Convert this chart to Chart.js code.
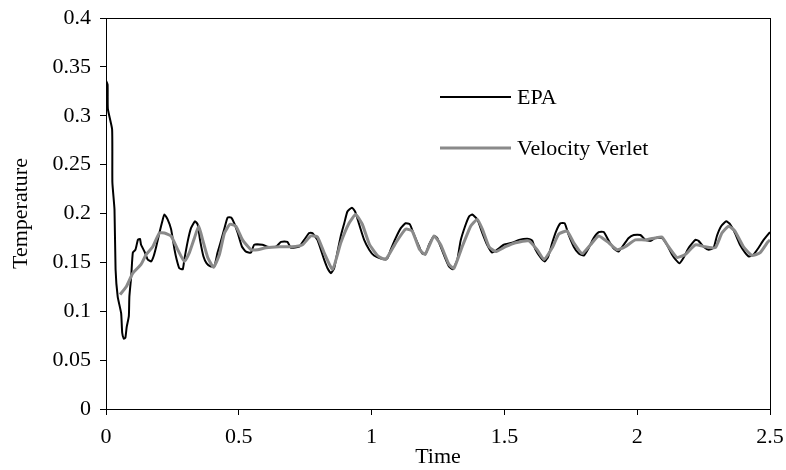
<!DOCTYPE html>
<html>
<head>
<meta charset="utf-8">
<script src="https://cdn.jsdelivr.net/npm/chart.js@4/dist/chart.umd.min.js"></script>
<style>
  html, body { margin: 0; padding: 0; background: #fff; }
  #wrap { width: 786px; height: 470px; }
</style>
</head>
<body>
<div id="wrap"><canvas id="c" width="786" height="470"></canvas></div>
<script>
// EPA thermostat run: time and temperature
const epaTime = [0.000,0.006,0.007,0.023,0.024,0.032,0.036,0.044,0.057,0.061,0.067,0.073,0.078,0.086,0.088,0.095,0.101,0.111,0.120,0.128,
  0.132,0.145,0.157,0.170,0.179,0.189,0.201,0.211,0.220,0.232,0.245,0.258,0.266,0.276,0.289,0.295,0.308,0.320,0.335,0.345,
  0.354,0.367,0.379,0.393,0.408,0.420,0.433,0.446,0.458,0.471,0.483,0.496,0.512,0.527,0.546,0.558,0.589,0.608,0.640,0.659,
  0.683,0.696,0.727,0.746,0.765,0.777,0.796,0.809,0.821,0.834,0.847,0.859,0.871,0.884,0.897,0.909,0.926,0.938,0.953,0.972,
  0.991,1.009,1.035,1.059,1.072,1.091,1.110,1.128,1.144,1.160,1.179,1.191,1.204,1.216,1.235,1.247,1.260,1.279,1.291,1.306,
  1.323,1.335,1.352,1.367,1.379,1.398,1.417,1.435,1.454,1.473,1.498,1.529,1.555,1.592,1.605,1.617,1.636,1.652,1.665,1.680,
  1.695,1.711,1.727,1.742,1.761,1.780,1.799,1.818,1.836,1.855,1.874,1.893,1.912,1.930,1.949,1.968,1.987,2.012,2.031,2.050,
  2.068,2.093,2.112,2.131,2.144,2.159,2.175,2.194,2.219,2.231,2.250,2.269,2.288,2.300,2.316,2.335,2.350,2.368,2.387,2.406,
  2.421,2.438,2.457,2.476,2.500];
const epaTemp = [0.336,0.332,0.307,0.286,0.232,0.204,0.143,0.115,0.098,0.078,0.072,0.073,0.084,0.095,0.115,0.136,0.160,0.163,0.173,0.174,
  0.168,0.161,0.153,0.151,0.156,0.166,0.180,0.191,0.199,0.194,0.184,0.163,0.153,0.144,0.143,0.153,0.172,0.185,0.192,0.189,
  0.173,0.156,0.149,0.146,0.146,0.160,0.172,0.185,0.196,0.196,0.190,0.180,0.166,0.161,0.160,0.168,0.168,0.166,0.166,0.171,
  0.171,0.165,0.166,0.173,0.180,0.180,0.173,0.163,0.153,0.144,0.139,0.144,0.160,0.177,0.190,0.202,0.206,0.202,0.189,0.173,
  0.163,0.157,0.154,0.154,0.163,0.175,0.185,0.190,0.189,0.178,0.166,0.159,0.159,0.168,0.177,0.175,0.166,0.153,0.146,0.143,
  0.153,0.172,0.187,0.197,0.199,0.194,0.180,0.168,0.160,0.163,0.168,0.170,0.173,0.174,0.172,0.163,0.155,0.151,0.156,0.170,
  0.182,0.190,0.190,0.178,0.166,0.159,0.157,0.165,0.175,0.181,0.181,0.172,0.164,0.161,0.168,0.175,0.178,0.178,0.173,0.172,
  0.175,0.175,0.168,0.158,0.153,0.149,0.155,0.165,0.173,0.172,0.166,0.163,0.165,0.177,0.187,0.192,0.189,0.180,0.168,0.160,
  0.156,0.158,0.165,0.173,0.181];

// Velocity Verlet run: time and temperature
const vvTime = [0.053,0.076,0.101,0.132,0.151,0.176,0.201,0.220,0.245,0.270,0.295,0.314,0.333,0.349,0.364,0.383,0.405,0.427,0.446,0.467,
  0.489,0.514,0.546,0.571,0.602,0.652,0.700,0.740,0.771,0.796,0.821,0.853,0.884,0.915,0.940,0.965,0.991,1.022,1.053,1.091,
  1.128,1.153,1.179,1.201,1.235,1.260,1.291,1.310,1.341,1.373,1.398,1.417,1.442,1.467,1.504,1.542,1.592,1.623,1.649,1.680,
  1.705,1.736,1.761,1.792,1.824,1.855,1.893,1.924,1.955,1.993,2.031,2.068,2.093,2.118,2.150,2.181,2.219,2.256,2.294,2.319,
  2.344,2.368,2.400,2.432,2.463,2.492,2.500];
const vvTemp = [0.117,0.125,0.139,0.148,0.158,0.166,0.180,0.180,0.177,0.163,0.151,0.160,0.175,0.187,0.173,0.155,0.145,0.158,0.180,0.189,
  0.187,0.173,0.163,0.163,0.165,0.166,0.166,0.168,0.177,0.176,0.160,0.143,0.170,0.190,0.199,0.189,0.169,0.157,0.153,0.170,
  0.184,0.182,0.164,0.158,0.177,0.168,0.148,0.144,0.166,0.187,0.194,0.184,0.166,0.161,0.166,0.170,0.172,0.163,0.153,0.165,
  0.179,0.182,0.170,0.159,0.168,0.177,0.170,0.163,0.166,0.173,0.173,0.175,0.176,0.166,0.155,0.158,0.168,0.166,0.165,0.180,
  0.187,0.182,0.166,0.157,0.160,0.171,0.173];

const seriesNames = ['EPA', 'Velocity Verlet'];
const xTicks = [0, 0.5, 1, 1.5, 2, 2.5];
const yTicks = [0, 0.05, 0.1, 0.15, 0.2, 0.25, 0.3, 0.35, 0.4];

const toPoints = (xs, ys) => xs.map((x, i) => ({ x: x, y: ys[i] }));
const FONT = "'Liberation Serif', 'Times New Roman', serif";
const FSIZE = 22;

// Frame around the plot area
const framePlugin = {
  id: 'frame',
  afterDraw(chart) {
    const { ctx, chartArea: a } = chart;
    ctx.save();
    ctx.strokeStyle = '#000';
    ctx.lineWidth = 1;
    ctx.strokeRect(Math.round(a.left) + 0.5, Math.round(a.top) + 0.5,
      Math.round(a.right - a.left), Math.round(a.bottom - a.top));
    ctx.restore();
  }
};

// Legend drawn inside the plot: a line sample followed by the series name
const insideLegend = {
  id: 'insideLegend',
  afterDatasetsDraw(chart, args, opts) {
    const { ctx } = chart;
    ctx.save();
    ctx.font = opts.font;
    ctx.textBaseline = 'middle';
    ctx.fillStyle = '#000';
    opts.rows.forEach((row) => {
      const ds = chart.data.datasets[row.index];
      ctx.strokeStyle = ds.borderColor;
      ctx.lineWidth = ds.borderWidth;
      ctx.beginPath();
      ctx.moveTo(opts.x, row.y);
      ctx.lineTo(opts.x + opts.lineLen, row.y);
      ctx.stroke();
      ctx.fillText(ds.label, opts.x + opts.lineLen + opts.gap, row.y + 1);
    });
    ctx.restore();
  }
};

new Chart(document.getElementById('c'), {
  type: 'line',
  data: {
    datasets: [
      {
        label: seriesNames[0],
        data: toPoints(epaTime, epaTemp),
        borderColor: '#000000',
        borderWidth: 2,
        pointRadius: 0,
        tension: 0.15,
        fill: false,
        order: 2
      },
      {
        label: seriesNames[1],
        data: toPoints(vvTime, vvTemp),
        borderColor: '#8a8a8a',
        borderWidth: 3,
        pointRadius: 0,
        tension: 0.15,
        fill: false,
        order: 1
      }
    ]
  },
  options: {
    responsive: false,
    animation: false,
    devicePixelRatio: 1,
    layout: { padding: { top: 18, right: 16, left: 0, bottom: 0 } },
    plugins: {
      legend: { display: false },
      tooltip: { enabled: false },
      insideLegend: {
        x: 440,
        lineLen: 71,
        gap: 6,
        font: FSIZE + "px " + FONT,
        rows: [ { index: 0, y: 97 }, { index: 1, y: 148 } ]
      }
    },
    scales: {
      x: {
        type: 'linear',
        min: 0,
        max: 2.5,
        afterBuildTicks: (s) => { s.ticks = xTicks.map(v => ({ value: v })); },
        afterFit: (s) => { s.height = 61; s.paddingLeft = 0; s.paddingRight = 0; },
        ticks: {
          color: '#000',
          font: { family: FONT, size: FSIZE },
          padding: 9,
          maxRotation: 0,
          callback: (v) => String(v)
        },
        grid: { drawOnChartArea: false, drawTicks: true, tickLength: 6, color: '#000', lineWidth: 1 },
        border: { display: true, color: '#000', width: 1 },
        title: {
          display: true,
          text: 'Time',
          color: '#000',
          font: { family: FONT, size: FSIZE },
          padding: { top: 0, bottom: 0 }
        }
      },
      y: {
        type: 'linear',
        min: 0,
        max: 0.4,
        afterBuildTicks: (s) => { s.ticks = yTicks.map(v => ({ value: v })); },
        afterFit: (s) => { s.width = 106; s.paddingTop = 0; s.paddingBottom = 0; },
        ticks: {
          color: '#000',
          font: { family: FONT, size: FSIZE },
          padding: 9,
          callback: (v) => String(v)
        },
        grid: { drawOnChartArea: false, drawTicks: true, tickLength: 6, color: '#000', lineWidth: 1 },
        border: { display: true, color: '#000', width: 1 },
        title: {
          display: true,
          text: 'Temperature',
          color: '#000',
          font: { family: FONT, size: FSIZE },
          padding: { top: 8, bottom: 0 }
        }
      }
    }
  },
  plugins: [framePlugin, insideLegend]
});
</script>
</body>
</html>
